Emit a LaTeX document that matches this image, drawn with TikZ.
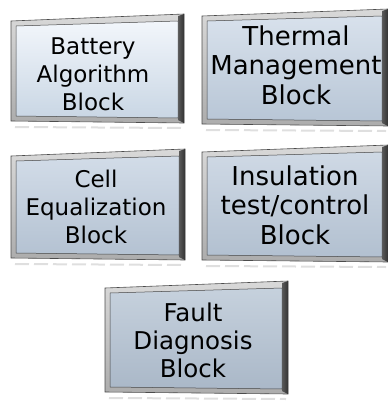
\documentclass[tikz,border=0pt]{standalone}
\usepackage{fontspec}
\setmainfont{DejaVu Sans}
\begin{document}
\begin{tikzpicture}[x=1pt,y=-1pt,
  blocktext/.style={align=center,inner sep=0pt,font=\fontsize{23}{28}\selectfont,text=black},
  bigtext/.style={blocktext,font=\fontsize{26}{29.5}\selectfont},
  midtext/.style={blocktext,font=\fontsize{24.5}{28}\selectfont}]
\useasboundingbox (0,0) rectangle (388,402);
\newcommand\bevelbox[7]{%
  % #1 L, #2 T, #3 R, #4 B, #5 face top, #6 face bottom
  \shade[top color=gray!30,bottom color=gray!65] (#1,#2+4) -- (#3,#2-3) -- (#3,#4+2) -- (#1,#4) -- cycle;
  \draw[gray!60!black,line width=0.6pt] (#1,#2+4) -- (#3,#2-3) -- (#3,#4+2) -- (#1,#4) -- cycle;
  \shade[left color=gray!70!black,right color=black!80] (#3-6,#2-1) -- (#3,#2-3) -- (#3,#4+2) -- (#3-6,#4-1) -- cycle;
  \shade[top color=#5,bottom color=#6] (#1+5,#2+9) -- (#3-6,#2+4) -- (#3-6,#4-3) -- (#1+5,#4-5) -- cycle;
  \draw[gray!55!black,line width=0.5pt] (#1+5,#2+9) -- (#3-6,#2+4) -- (#3-6,#4-3) -- (#1+5,#4-5) -- cycle;
  \draw[gray!25,line width=2pt,dash pattern=on 14pt off 5pt] (#1+4,#4+6) -- (#3-2,#4+7);
}
\definecolor{f1t}{HTML}{F2F6FB}\definecolor{f1b}{HTML}{C9D6E4}
\definecolor{f2t}{HTML}{D8E1EC}\definecolor{f2b}{HTML}{B8C6D6}
\definecolor{f3t}{HTML}{D2DCE8}\definecolor{f3b}{HTML}{B4C2D2}
\definecolor{f4t}{HTML}{CFD9E5}\definecolor{f4b}{HTML}{B2C0D0}
\definecolor{f5t}{HTML}{C6D1DD}\definecolor{f5b}{HTML}{AAB8C8}
\bevelbox{11}{17}{184}{121}{f1t}{f1b}{}
\bevelbox{202}{12}{388}{124}{f2t}{f2b}{}
\bevelbox{11}{152}{185}{258}{f3t}{f3b}{}
\bevelbox{202}{148}{388}{260}{f4t}{f4b}{}
\bevelbox{105}{284}{288}{392}{f5t}{f5b}{}
\node[blocktext] (b1) at (93,74) {Battery\\Algorithm\\Block};
\node[bigtext] (b2) at (296,65) {Thermal\\Management\\Block};
\node[blocktext] (b3) at (96,207) {Cell\\Equalization\\Block};
\node[bigtext] (b4) at (295,205) {Insulation\\test/control\\Block};
\node[midtext] (b5) at (193,340) {Fault\\Diagnosis\\Block};
\end{tikzpicture}
\end{document}
